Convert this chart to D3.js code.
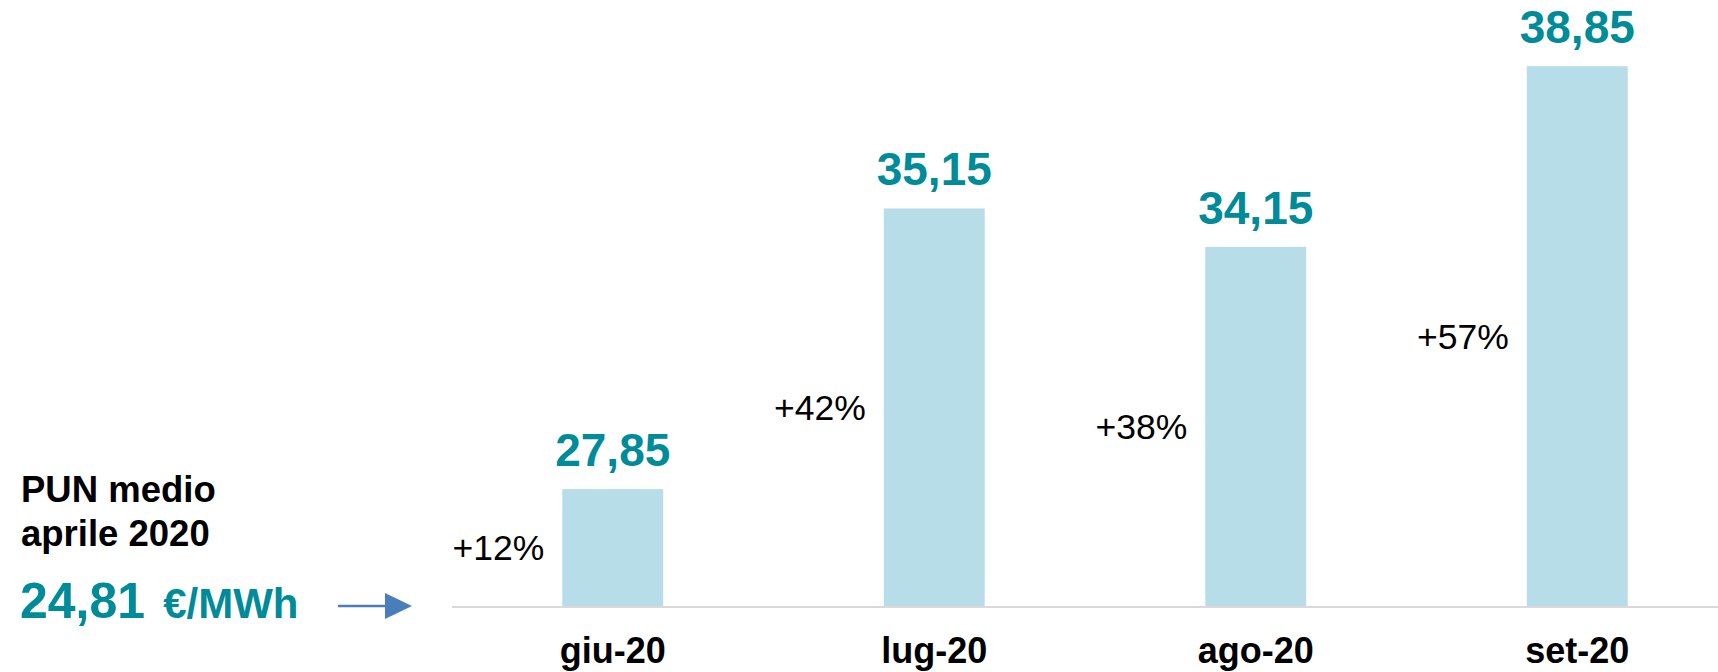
<!DOCTYPE html>
<head>
<meta charset="utf-8">
<script src="https://d3js.org/d3.v7.min.js"></script>
<style>
body {
  margin: 0;
  font-family: 'Liberation Sans', Arial, sans-serif;
  background: white;
}
.bar { fill: #b7dde8; }
.value_label { fill: #008b99; font-weight: bold; font-size: 46px; text-anchor: middle; }
.pct_label { fill: black; font-size: 35.5px; text-anchor: end; }
.cat_label { fill: black; font-weight: bold; font-size: 36px; text-anchor: middle; }
</style>
</head>
<body>
<div id="plotContainer"></div>
<script>

var months = ["giu-20", "lug-20", "ago-20", "set-20"];
var pun = [27.85, 35.15, 34.15, 38.85];
var changes = ["+12%", "+42%", "+38%", "+57%"];
var aprilPun = 24.81;

var width = 1718, height = 672;

var svg = d3.select("#plotContainer")
    .append("svg")
    .attr("width", width)
    .attr("height", height);

var x = d3.scaleBand()
    .domain(months)
    .range([452, 1738])
    .paddingInner(0.686)
    .paddingOuter(0.343);

// bars rise from the april value, not from zero
var y = d3.scaleLinear()
    .domain([aprilPun, 40])
    .range([606, 22]);

var data = months.map(function(m, i) {
    return {month: m, value: pun[i], change: changes[i]};
});

// baseline
svg.append("line")
    .attr("x1", 452)
    .attr("x2", width)
    .attr("y1", y(aprilPun) + 1)
    .attr("y2", y(aprilPun) + 1)
    .attr("stroke", "#d9d9d9")
    .attr("stroke-width", 2);

svg.selectAll(".bar")
    .data(data)
    .enter()
    .append("rect")
    .attr("class", "bar")
    .attr("x", function(d) { return x(d.month); })
    .attr("width", x.bandwidth())
    .attr("y", function(d) { return y(d.value); })
    .attr("height", function(d) { return y(aprilPun) - y(d.value); });

var fmt = function(v) { return v.toFixed(2).replace(".", ","); };

svg.selectAll(".value_label")
    .data(data)
    .enter()
    .append("text")
    .attr("class", "value_label")
    .attr("x", function(d) { return x(d.month) + x.bandwidth() / 2; })
    .attr("y", function(d) { return y(d.value) - 23; })
    .text(function(d) { return fmt(d.value); });

svg.selectAll(".pct_label")
    .data(data)
    .enter()
    .append("text")
    .attr("class", "pct_label")
    .attr("x", function(d) { return x(d.month) - 18; })
    .attr("y", function(d) { return (y(d.value) + y(aprilPun)) / 2; })
    .attr("dy", "0.35em")
    .text(function(d) { return d.change; });

svg.selectAll(".cat_label")
    .data(data)
    .enter()
    .append("text")
    .attr("class", "cat_label")
    .attr("x", function(d) { return x(d.month) + x.bandwidth() / 2; })
    .attr("y", 663)
    .text(function(d) { return d.month; });

// left note
svg.append("text")
    .attr("x", 21).attr("y", 502)
    .attr("font-size", 36.5).attr("font-weight", "bold")
    .text("PUN medio");
svg.append("text")
    .attr("x", 21).attr("y", 546)
    .attr("font-size", 36.5).attr("font-weight", "bold")
    .text("aprile 2020");

var note = svg.append("text")
    .attr("x", 20).attr("y", 618)
    .attr("fill", "#008b99").attr("font-weight", "bold");
note.append("tspan").attr("font-size", 50).text(fmt(aprilPun));
note.append("tspan").attr("font-size", 42).attr("dx", 18).text("€/MWh");

// arrow pointing at the baseline
svg.append("line")
    .attr("x1", 338).attr("x2", 388)
    .attr("y1", y(aprilPun)).attr("y2", y(aprilPun))
    .attr("stroke", "#4a7ebb").attr("stroke-width", 2.5);
svg.append("path")
    .attr("d", d3.line()([[385, y(aprilPun) - 13], [412, y(aprilPun)], [385, y(aprilPun) + 13]]) + "Z")
    .attr("fill", "#4a7ebb");

</script>
</body>
